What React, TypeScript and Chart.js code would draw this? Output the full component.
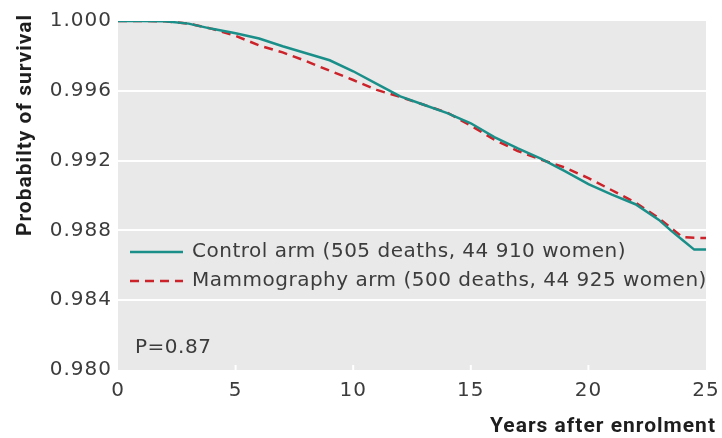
import React, { useEffect, useRef } from "react";
import { Chart, registerables } from "chart.js";

Chart.register(...registerables);

const years = [0, 1, 2, 3, 4, 5, 6, 7, 8, 9, 10, 11, 12, 13, 14, 15, 16, 17, 18, 19, 20, 21, 22, 23, 23.5, 24, 24.5, 25];
const controlArm = [
  1.0, 1.0, 0.99998, 0.99985, 0.99955, 0.9993, 0.999, 0.99855, 0.99815, 0.99775, 0.99712, 0.9964, 0.99568,
  0.9952, 0.99472, 0.99414, 0.99335, 0.9927, 0.9921, 0.9914, 0.99065, 0.99005, 0.9895, 0.9886, 0.988, 0.98745,
  0.9869, 0.9869,
];
const mammographyArm = [
  1.0, 1.0, 0.99998, 0.99985, 0.99955, 0.99915, 0.9986, 0.9982, 0.9977, 0.99715, 0.99662, 0.99605, 0.99565,
  0.9952, 0.99475, 0.994, 0.9932, 0.99255, 0.99205, 0.9916, 0.991, 0.9903, 0.9896, 0.9887, 0.98815, 0.98762,
  0.98758, 0.98756,
];
const yMin = 0.98;
const yMax = 1.0;
const yStep = 0.004;
const xMin = 0;
const xMax = 25;
const xStep = 5;
const legendLabels = ["Control arm (505 deaths, 44 910 women)", "Mammography arm (500 deaths, 44 925 women)"];
const pValueText = "P=0.87";
const yTitle = "Probabilty of survival";
const xTitle = "Years after enrolment";

const TEAL = "#1a8f89";
const RED = "#cc2229";
const PLOT_BG = "#e9e9e9";
const TEXT = "#3c3c3c";
const FONT = "'DejaVu Sans', sans-serif";
const BOLD_FONT = "Roboto, sans-serif";

const decorPlugin = {
  id: "decor",
  beforeDraw(chart: any) {
    const { ctx, chartArea: a } = chart;
    ctx.letterSpacing = "1px";
    ctx.save();
    ctx.fillStyle = PLOT_BG;
    ctx.fillRect(a.left, a.top, a.right - a.left, a.bottom - a.top);
    ctx.restore();
  },
  beforeDatasetsDraw(chart: any) {
    const { ctx, chartArea: a } = chart;
    const xs = chart.scales.x;
    ctx.save();
    ctx.strokeStyle = "#ffffff";
    ctx.lineWidth = 2;
    for (let v = xMin + xStep; v < xMax; v += xStep) {
      const px = xs.getPixelForValue(v);
      ctx.beginPath();
      ctx.moveTo(px, a.bottom);
      ctx.lineTo(px, a.bottom - 5);
      ctx.stroke();
    }
    ctx.restore();
  },
  afterDraw(chart: any) {
    const { ctx, chartArea: a, width, height } = chart;
    ctx.save();
    ctx.letterSpacing = "0.5px";
    const rows = [
      { color: TEAL, dash: [] as number[], label: legendLabels[0], y: a.top + 231 },
      { color: RED, dash: [9, 6], label: legendLabels[1], y: a.top + 260 },
    ];
    for (const r of rows) {
      ctx.strokeStyle = r.color;
      ctx.lineWidth = 2.5;
      ctx.setLineDash(r.dash);
      ctx.beginPath();
      ctx.moveTo(a.left + 12, r.y);
      ctx.lineTo(a.left + 65, r.y);
      ctx.stroke();
      ctx.setLineDash([]);
      ctx.fillStyle = TEXT;
      ctx.font = `20px ${FONT}`;
      ctx.textAlign = "left";
      ctx.textBaseline = "middle";
      ctx.fillText(r.label, a.left + 74, r.y);
    }
    ctx.font = `20px ${FONT}`;
    ctx.fillStyle = TEXT;
    ctx.textBaseline = "middle";
    ctx.fillText(pValueText, a.left + 17, a.bottom - 22);
    ctx.letterSpacing = "1px";
    ctx.font = `bold 21px ${BOLD_FONT}`;
    ctx.fillStyle = "#1e1e1e";
    ctx.textAlign = "right";
    ctx.textBaseline = "middle";
    ctx.fillText(xTitle, width - 6, height - 11);
    ctx.translate(26, 125);
    ctx.rotate(-Math.PI / 2);
    ctx.textAlign = "center";
    ctx.fillText(yTitle, 0, 0);
    ctx.restore();
    ctx.letterSpacing = "0px";
  },
};

export default function App() {
  const ref = useRef<HTMLCanvasElement | null>(null);
  useEffect(() => {
    if (!ref.current) return;
    const chart = new Chart(ref.current, {
      type: "line",
      data: {
        labels: years,
        datasets: [
          {
            label: legendLabels[0],
            data: years.map((x, i) => ({ x, y: controlArm[i] })),
            borderColor: TEAL,
            borderWidth: 2.5,
            pointRadius: 0,
            tension: 0,
          },
          {
            label: legendLabels[1],
            data: years.map((x, i) => ({ x, y: mammographyArm[i] })),
            borderColor: RED,
            borderWidth: 2.5,
            borderDash: [9, 6],
            pointRadius: 0,
            tension: 0,
          },
        ],
      },
      options: {
        responsive: false,
        animation: false,
        layout: { padding: { top: 21, right: 16, left: 0, bottom: 0 } },
        plugins: { legend: { display: false }, tooltip: { enabled: false } },
        scales: {
          x: {
            type: "linear",
            min: xMin,
            max: xMax,
            border: { display: false },
            grid: { display: false },
            ticks: { stepSize: xStep, color: TEXT, font: { family: FONT, size: 20 }, padding: 1, maxRotation: 0 },
            afterFit: (s: any) => {
              s.height = 68;
            },
          },
          y: {
            min: yMin,
            max: yMax,
            border: { display: false },
            grid: {
              drawTicks: false,
              lineWidth: 2,
              color: (c: any) => {
                const v = c.tick?.value;
                return v > yMin + 1e-9 && v < yMax - 1e-9 ? "#ffffff" : "rgba(0,0,0,0)";
              },
            },
            ticks: {
              stepSize: yStep,
              color: TEXT,
              font: { family: FONT, size: 20 },
              padding: 6,
              callback: (v: any) => Number(v).toFixed(3),
            },
            afterFit: (s: any) => {
              s.width = 118;
            },
          },
        },
      },
      plugins: [decorPlugin],
    });
    return () => chart.destroy();
  }, []);
  return (
    <div style={{ position: "absolute", left: 0, top: 0, width: 722, height: 438, background: "#fff" }}>
      <canvas ref={ref} width={722} height={438} />
    </div>
  );
}
